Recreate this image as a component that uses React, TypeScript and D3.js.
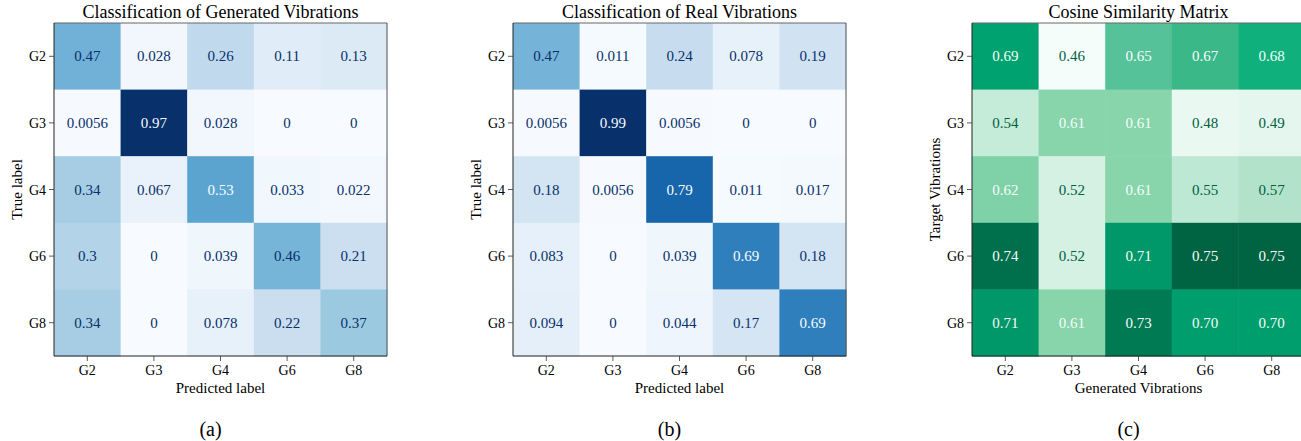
import React from "react";
import * as d3 from "d3";

const categories = ["G2", "G3", "G4", "G6", "G8"];

const generatedMatrix = [
  [0.47, 0.028, 0.26, 0.11, 0.13],
  [0.0056, 0.97, 0.028, 0, 0],
  [0.34, 0.067, 0.53, 0.033, 0.022],
  [0.3, 0, 0.039, 0.46, 0.21],
  [0.34, 0, 0.078, 0.22, 0.37],
];

const realMatrix = [
  [0.47, 0.011, 0.24, 0.078, 0.19],
  [0.0056, 0.99, 0.0056, 0, 0],
  [0.18, 0.0056, 0.79, 0.011, 0.017],
  [0.083, 0, 0.039, 0.69, 0.18],
  [0.094, 0, 0.044, 0.17, 0.69],
];

const cosineMatrix = [
  [0.69, 0.46, 0.65, 0.67, 0.68],
  [0.54, 0.61, 0.61, 0.48, 0.49],
  [0.62, 0.52, 0.61, 0.55, 0.57],
  [0.74, 0.52, 0.71, 0.75, 0.75],
  [0.71, 0.61, 0.73, 0.7, 0.7],
];

const BLUES = ["#f7fbff", "#deebf7", "#c6dbef", "#9ecae1", "#6baed6", "#4292c6", "#2171b5", "#08519c", "#08306b"];
const GREEN_STOPS: [number, string][] = [
  [0.46, "#f5fdfa"], [0.49, "#e4f6ee"], [0.52, "#d4f1e4"], [0.55, "#bde8d3"], [0.57, "#b2e2ca"],
  [0.61, "#88d4ab"], [0.62, "#7fd1a8"], [0.65, "#55c29a"], [0.67, "#3bb888"], [0.68, "#10b07c"],
  [0.69, "#00a36f"], [0.71, "#009868"], [0.73, "#007a53"], [0.75, "#006442"],
];

const FONT = "'Liberation Serif', 'Times New Roman', serif";

type PanelProps = {
  left: number;
  matrix: number[][];
  title: string;
  xLabel: string;
  yLabel: string;
  caption: string;
  kind: "blues" | "greens";
};

function Panel({ left, matrix, title, xLabel, yLabel, caption, kind }: PanelProps) {
  const top = 23;
  const size = 333;
  const x = d3.scaleBand<string>().domain(categories).range([left, left + size]);
  const y = d3.scaleBand<string>().domain(categories).range([top, top + size]);
  const flat = matrix.flat();
  const vmin = d3.min(flat) as number;
  const vmax = d3.max(flat) as number;
  let color: (v: number) => string;
  let textColor: (v: number) => string;
  let fmt: (v: number) => string;
  if (kind === "blues") {
    const s = d3
      .scaleLinear<string>()
      .domain(BLUES.map((_, i) => vmin + ((vmax - vmin) * i) / (BLUES.length - 1)))
      .range(BLUES)
      .clamp(true);
    color = (v) => s(v);
    const thresh = (vmin + vmax) / 2;
    textColor = (v) => (v < thresh ? BLUES[BLUES.length - 1] : BLUES[0]);
    fmt = (v) => (v === 0 ? "0" : d3.format(".2")(v));
  } else {
    const s = d3
      .scaleLinear<string>()
      .domain(GREEN_STOPS.map((d) => d[0]))
      .range(GREEN_STOPS.map((d) => d[1]))
      .clamp(true);
    color = (v) => s(v);
    textColor = (v) => (v < 0.6 ? "#00603f" : "#f5fdfa");
    fmt = d3.format(".2f");
  }
  const cx = left + size / 2;
  return (
    <g fontFamily={FONT}>
      <text x={cx} y={18} textAnchor="middle" fontSize={18} fill="#000">
        {title}
      </text>
      {matrix.map((row, i) =>
        row.map((v, j) => (
          <g key={`${i}-${j}`}>
            <rect
              x={x(categories[j])}
              y={y(categories[i])}
              width={x.bandwidth() + 0.5}
              height={y.bandwidth() + 0.5}
              fill={color(v)}
            />
            <text
              x={(x(categories[j]) as number) + x.bandwidth() / 2}
              y={(y(categories[i]) as number) + y.bandwidth() / 2 + 5}
              textAnchor="middle"
              fontSize={15}
              fill={textColor(v)}
            >
              {fmt(v)}
            </text>
          </g>
        ))
      )}
      {/* spines */}
      <line x1={left} x2={left + size} y1={top} y2={top} stroke="#666" strokeWidth={1} />
      <line x1={left + size} x2={left + size} y1={top} y2={top + size} stroke="#555" strokeWidth={1} />
      <line x1={left} x2={left} y1={top} y2={top + size} stroke="#222" strokeWidth={1} />
      <line x1={left} x2={left + size} y1={top + size} y2={top + size} stroke="#222" strokeWidth={1} />
      {categories.map((c) => {
        const yc = (y(c) as number) + y.bandwidth() / 2;
        const xc = (x(c) as number) + x.bandwidth() / 2;
        return (
          <g key={c}>
            <line x1={left - 5} x2={left} y1={yc} y2={yc} stroke="#333" strokeWidth={0.8} />
            <text x={left - 8} y={yc + 5} textAnchor="end" fontSize={14} fill="#000">
              {c}
            </text>
            <line x1={xc} x2={xc} y1={top + size} y2={top + size + 5} stroke="#333" strokeWidth={0.8} />
            <text x={xc} y={375} textAnchor="middle" fontSize={14} fill="#000">
              {c}
            </text>
          </g>
        );
      })}
      <text x={cx} y={392.5} textAnchor="middle" fontSize={15} fill="#000">
        {xLabel}
      </text>
      <text
        transform={`translate(${left - 32},${top + size / 2}) rotate(-90)`}
        textAnchor="middle"
        fontSize={15}
        fill="#000"
      >
        {yLabel}
      </text>
      <text x={cx - 10} y={436} textAnchor="middle" fontSize={20} fill="#000">
        {caption}
      </text>
    </g>
  );
}

export default function App() {
  return (
    <svg
      width={1301}
      height={441}
      style={{ position: "absolute", left: 0, top: 0, background: "#fff" }}
    >
      <rect x={0} y={0} width={1301} height={441} fill="#fff" />
      <Panel
        left={54}
        matrix={generatedMatrix}
        title="Classification of Generated Vibrations"
        xLabel="Predicted label"
        yLabel="True label"
        caption="(a)"
        kind="blues"
      />
      <Panel
        left={513}
        matrix={realMatrix}
        title="Classification of Real Vibrations"
        xLabel="Predicted label"
        yLabel="True label"
        caption="(b)"
        kind="blues"
      />
      <Panel
        left={972}
        matrix={cosineMatrix}
        title="Cosine Similarity Matrix"
        xLabel="Generated Vibrations"
        yLabel="Target Vibrations"
        caption="(c)"
        kind="greens"
      />
    </svg>
  );
}
